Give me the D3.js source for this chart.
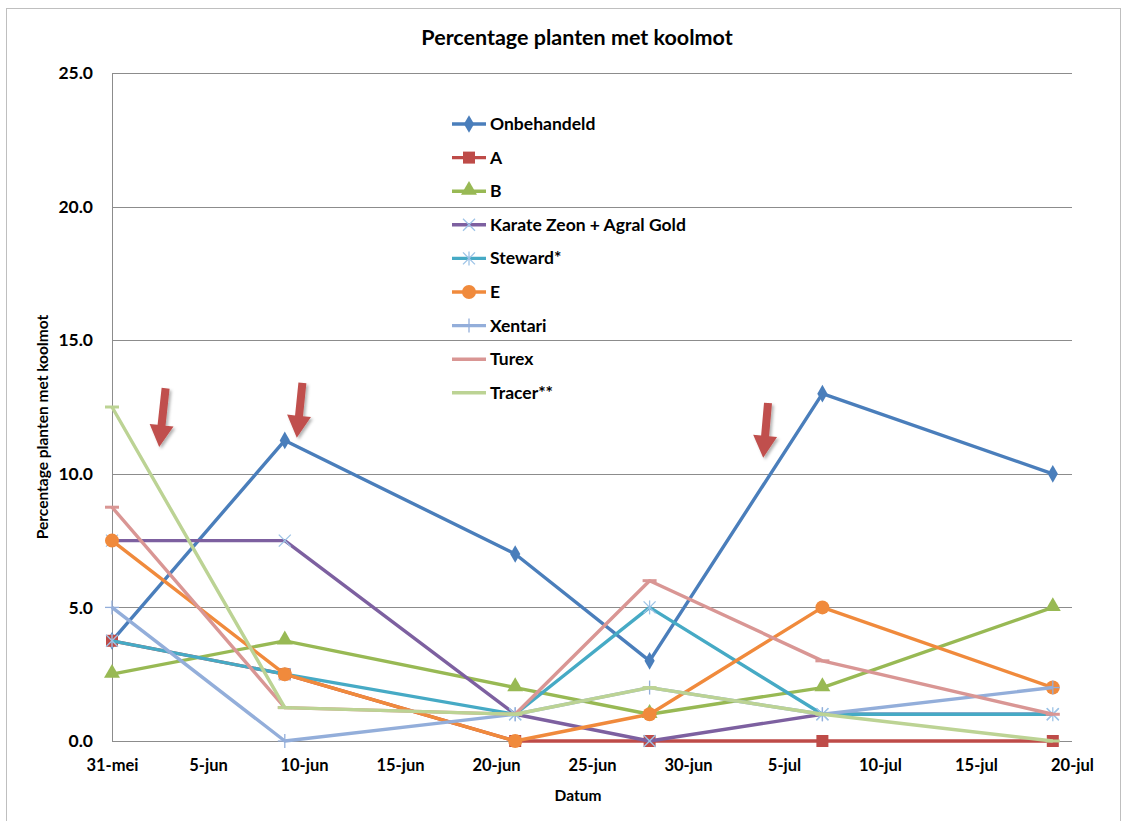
<!DOCTYPE html>
<html>
<head>
<meta charset="utf-8">
<script src="https://cdn.jsdelivr.net/npm/d3@7"></script>
<style>
  body { margin: 0; background: #fff; }
  text { font-family: Lato, "Open Sans", sans-serif; font-weight: bold; fill: #000; }
</style>
</head>
<body>
<div id="chart"></div>
<script>
// Sample dates (day-month), year is irrelevant
var dates = ["31-5", "9-6", "21-6", "28-6", "7-7", "19-7"];

var seriesNames = ["Onbehandeld", "A", "B", "Karate Zeon + Agral Gold", "Steward*", "E", "Xentari", "Turex", "Tracer**"];

var onbehandeld = [3.75, 11.25, 7, 3, 13, 10];
var seriesA     = [3.75, 2.5, 0, 0, 0, 0];
var seriesB     = [2.5, 3.75, 2, 1, 2, 5];
var karate      = [7.5, 7.5, 1, 0, 1, 1];
var steward     = [3.75, 2.5, 1, 5, 1, 1];
var seriesE     = [7.5, 2.5, 0, 1, 5, 2];
var xentari     = [5, 0, 1, 2, 1, 2];
var turex       = [8.75, 1.25, 1, 6, 3, 1];
var tracer      = [12.5, 1.25, 1, 2, 1, 0];

var colors  = ["#4A7EBB", "#BE4B48", "#98B954", "#7D60A0", "#46AAC5", "#F08A3C", "#93AEDA", "#D99694", "#BCD394"];
var markers = ["diamond", "square", "triangle", "x", "star", "circle", "plus", "dash", "dash"];

var yTicks = [0, 5, 10, 15, 20, 25];
var monthNames = ["jan", "feb", "mrt", "apr", "mei", "jun", "jul", "aug", "sep", "okt", "nov", "dec"];

// Treatment moments (red arrows), in days after 31-mei: [day top, value top, day tip, value tip]
var arrows = [
  [2.8, 13.2, 2.45, 11.0],
  [9.9, 13.4, 9.64, 11.35],
  [34.17, 12.65, 33.9, 10.6]
];

var allValues = [onbehandeld, seriesA, seriesB, karate, steward, seriesE, xentari, turex, tracer];

var startDate = new Date(2010, 4, 31);

function parseDate(s) {
  var p = s.split("-");
  return new Date(2010, +p[1] - 1, +p[0]);
}
function dayOffset(days) {
  return d3.timeHour.offset(startDate, Math.round(days * 24));
}

var width = 1128, height = 821;
var margin = {top: 73, right: 56, bottom: 80, left: 112};

var svg = d3.select("#chart").append("svg")
    .attr("width", width)
    .attr("height", height);

// outer chart border
svg.append("rect")
    .attr("x", 6.5).attr("y", 8.5)
    .attr("width", 1114).attr("height", 830)
    .attr("fill", "none")
    .attr("stroke", "#BFBFBF");

var x = d3.scaleTime()
    .domain([startDate, new Date(2010, 6, 20)])
    .range([margin.left, width - margin.right]);

var y = d3.scaleLinear()
    .domain([0, 25])
    .range([741, margin.top]);

// gridlines
svg.append("g")
    .selectAll("line")
    .data(yTicks)
    .enter().append("line")
      .attr("x1", x.range()[0])
      .attr("x2", x.range()[1])
      .attr("y1", function(d) { return Math.round(y(d)) + 0.5; })
      .attr("y2", function(d) { return Math.round(y(d)) + 0.5; })
      .attr("stroke", "#8C8C8C")
      .attr("stroke-width", 1);

// y axis line
svg.append("line")
    .attr("x1", margin.left + 0.5).attr("x2", margin.left + 0.5)
    .attr("y1", y(25)).attr("y2", y(0))
    .attr("stroke", "#8C8C8C");

// y axis labels
var yAxis = d3.axisLeft(y).tickValues(yTicks).tickFormat(d3.format(".1f")).tickSize(0).tickPadding(19);
var gy = svg.append("g").attr("transform", "translate(" + margin.left + ",0)").call(yAxis);
gy.select(".domain").remove();
gy.selectAll("text").style("font-size", "17.5px").attr("fill", "#000");

// x axis labels
var xTicks = d3.timeDay.range(startDate, new Date(2010, 6, 21), 5);
var xAxis = d3.axisBottom(x).tickValues(xTicks)
    .tickFormat(function(d) { return d.getDate() + "-" + monthNames[d.getMonth()]; })
    .tickSize(0).tickPadding(18);
var gx = svg.append("g").attr("transform", "translate(0," + y(0) + ")").call(xAxis);
gx.select(".domain").remove();
gx.selectAll("text").style("font-size", "16.5px").attr("fill", "#000");

// titles
svg.append("text")
    .attr("x", 577).attr("y", 45)
    .attr("text-anchor", "middle")
    .style("font-size", "21.5px")
    .text("Percentage planten met koolmot");

svg.append("text")
    .attr("x", 578).attr("y", 801)
    .attr("text-anchor", "middle")
    .style("font-size", "15.5px")
    .text("Datum");

svg.append("text")
    .attr("transform", "translate(48," + 427 + ") rotate(-90)")
    .attr("text-anchor", "middle")
    .style("font-size", "15.5px")
    .text("Percentage planten met koolmot");

// marker drawing
function drawMarker(g, type, color, cx, cy) {
  var s = 6;
  if (type === "diamond") {
    g.append("path").attr("d", d3.symbol(d3.symbolDiamond, 90)())
      .attr("transform", "translate(" + cx + "," + cy + ")").attr("fill", color);
  } else if (type === "square") {
    g.append("rect").attr("x", cx - 6).attr("y", cy - 6).attr("width", 12).attr("height", 12).attr("fill", color);
  } else if (type === "triangle") {
    g.append("path").attr("d", d3.symbol(d3.symbolTriangle, 110)())
      .attr("transform", "translate(" + cx + "," + (cy - 1) + ")").attr("fill", color);
  } else if (type === "circle") {
    g.append("circle").attr("cx", cx).attr("cy", cy).attr("r", 7).attr("fill", color);
  } else if (type === "x" || type === "star" || type === "plus") {
    var segs = [];
    if (type !== "plus") segs.push([-s, -s, s, s], [-s, s, s, -s]);
    if (type !== "x") segs.push([0, -7, 0, 7]);
    if (type === "plus") segs.push([-7, 0, 7, 0]);
    segs.forEach(function(a) {
      g.append("line")
        .attr("x1", cx + a[0]).attr("y1", cy + a[1])
        .attr("x2", cx + a[2]).attr("y2", cy + a[3])
        .attr("stroke", type === "plus" ? color : "#9DC3E6")
        .attr("stroke-width", 1.3);
    });
  } else if (type === "dash") {
    g.append("line").attr("x1", cx - 7).attr("x2", cx + 7).attr("y1", cy).attr("y2", cy)
      .attr("stroke", color).attr("stroke-width", 3);
  }
}

var line = d3.line()
    .x(function(d) { return x(d.date); })
    .y(function(d) { return y(d.value); });

seriesNames.forEach(function(name, i) {
  var pts = dates.map(function(d, j) { return {date: parseDate(d), value: allValues[i][j]}; });
  var g = svg.append("g");
  g.append("path")
    .datum(pts)
    .attr("d", line)
    .attr("fill", "none")
    .attr("stroke", colors[i])
    .attr("stroke-width", 3.4)
    .attr("stroke-linejoin", "round");
  pts.forEach(function(p) {
    drawMarker(g, markers[i], colors[i], x(p.date), y(p.value));
  });
});

// legend
var legend = svg.append("g");
seriesNames.forEach(function(name, i) {
  var ly = 124 + i * 33.6;
  legend.append("line")
    .attr("x1", 452).attr("x2", 486).attr("y1", ly).attr("y2", ly)
    .attr("stroke", colors[i]).attr("stroke-width", 3.4);
  if (markers[i] !== "dash") drawMarker(legend, markers[i], colors[i], 469, ly);
  legend.append("text")
    .attr("x", 490).attr("y", ly + 6)
    .style("font-size", "17.5px")
    .text(name);
});

// red arrows
var defs = svg.append("defs");
var filt = defs.append("filter").attr("id", "shadow").attr("x", "-50%").attr("y", "-50%").attr("width", "200%").attr("height", "200%");
filt.append("feDropShadow").attr("dx", 2).attr("dy", 2).attr("stdDeviation", 1.5).attr("flood-color", "#000").attr("flood-opacity", 0.3);

arrows.forEach(function(a) {
  var x0 = x(dayOffset(a[0])), y0 = y(a[1]);
  var x1 = x(dayOffset(a[2])), y1 = y(a[3]);
  var dx = x1 - x0, dy = y1 - y0, len = Math.sqrt(dx * dx + dy * dy);
  var ux = dx / len, uy = dy / len, nx = -uy, ny = ux;
  var shaft = 4, head = 12, headLen = 22;
  var bx = x1 - ux * headLen, by = y1 - uy * headLen;
  var p = [
    [x0 + nx * shaft, y0 + ny * shaft],
    [bx + nx * shaft, by + ny * shaft],
    [bx + nx * head, by + ny * head],
    [x1, y1],
    [bx - nx * head, by - ny * head],
    [bx - nx * shaft, by - ny * shaft],
    [x0 - nx * shaft, y0 - ny * shaft]
  ];
  svg.append("path")
    .attr("d", "M" + p.map(function(q) { return q.join(","); }).join("L") + "Z")
    .attr("fill", "#C0504D")
    .attr("filter", "url(#shadow)");
});
</script>
</body>
</html>
